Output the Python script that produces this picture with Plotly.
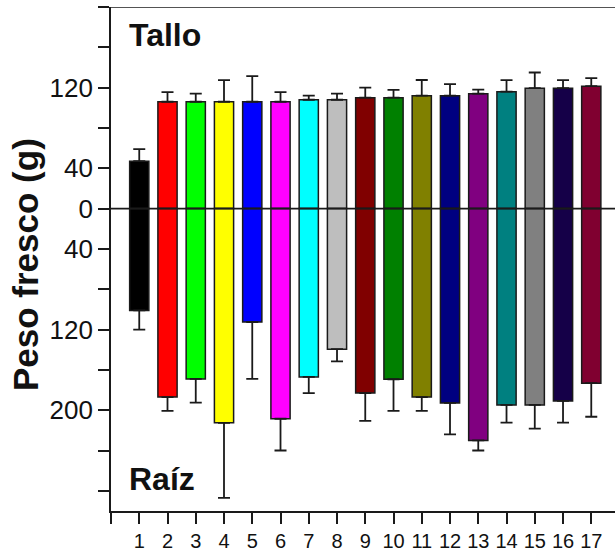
import plotly.graph_objects as go

groups = list(range(1, 18))
tallo = [47, 106, 106, 106, 106, 106, 108, 108, 110, 110, 112, 112, 114, 116, 119.5, 119.5, 121.5]
tallo_err = [12, 9.5, 8, 21.5, 25.5, 9.5, 4, 6, 10, 7.8, 15.6, 11.5, 4, 11.4, 15.5, 7.9, 7.9]
raiz = [101, 187, 169, 212.5, 112.5, 208.5, 167, 139.5, 183, 169.3, 187, 192.8, 230, 194.8, 194.8, 190.8, 173.2]
raiz_err = [19, 13.7, 23.5, 74.5, 56.5, 31.5, 16, 12, 27.5, 31.4, 13.7, 31.2, 10, 17.6, 23.5, 21.6, 33.3]
colors = ["#000000", "#FF0000", "#00FF00", "#FFFF00", "#0000FF", "#FF00FF", "#00FFFF",
          "#BEBEBE", "#800000", "#008000", "#808000", "#000080", "#800080", "#008080",
          "#808080", "#150048", "#800030"]

ytick_vals = [200, 160, 120, 80, 40, 0, -40, -80, -120, -160, -200, -240, -280]
ytick_text = ["", "", "120", "", "40", "0", "40", "", "120", "", "200", "", ""]
xtick_vals = [0] + groups
xtick_text = [""] + [str(g) for g in groups]

FONT = "Liberation Sans, Arial, Helvetica, sans-serif"
LINE = "#1a1a1a"

fig = go.Figure()
fig.add_trace(go.Bar(
    x=groups, y=tallo, width=0.68,
    marker=dict(color=colors, line=dict(color=LINE, width=1.5)),
    error_y=dict(type="data", symmetric=False, array=tallo_err,
                 arrayminus=[0] * len(groups), color=LINE, thickness=1.8, width=6),
    showlegend=False,
))
fig.add_trace(go.Bar(
    x=groups, y=[-v for v in raiz], width=0.68,
    marker=dict(color=colors, line=dict(color=LINE, width=1.5)),
    error_y=dict(type="data", symmetric=False, array=[0] * len(groups),
                 arrayminus=raiz_err, color=LINE, thickness=1.8, width=6),
    showlegend=False,
))

fig.update_layout(
    width=615, height=552,
    margin=dict(l=111, r=0, t=7, b=36),
    paper_bgcolor="white", plot_bgcolor="white",
    barmode="overlay",
    font=dict(family=FONT, color="#111111"),
    xaxis=dict(range=[0, 17.84], tickmode="array", tickvals=xtick_vals, ticktext=xtick_text,
               showgrid=False, zeroline=False, showline=True, linecolor=LINE, linewidth=1.6,
               ticks="outside", ticklen=11, tickwidth=1.6, tickcolor=LINE,
               tickfont=dict(size=20, family=FONT)),
    yaxis=dict(range=[-300, 200], tickmode="array", tickvals=ytick_vals, ticktext=ytick_text,
               showgrid=False, zeroline=False, showline=True, linecolor=LINE, linewidth=1.6,
               ticks="outside", ticklen=11, tickwidth=1.6, tickcolor=LINE,
               tickfont=dict(size=26, family=FONT)),
    shapes=[
        dict(type="line", xref="paper", yref="y", x0=0, x1=1, y0=0, y1=0,
             line=dict(color=LINE, width=1.6), layer="above"),
        dict(type="line", xref="paper", yref="y", x0=0, x1=1, y0=200, y1=200,
             line=dict(color=LINE, width=1.6), layer="above"),
    ],
    annotations=[
        dict(text="<b>Tallo</b>", x=0.57, y=172, xref="x", yref="y", xanchor="left",
             yanchor="middle", showarrow=False, font=dict(size=32, family=FONT, color="#111111")),
        dict(text="<b>Raíz</b>", x=0.57, y=-268, xref="x", yref="y", xanchor="left",
             yanchor="middle", showarrow=False, font=dict(size=32, family=FONT, color="#111111")),
        dict(text="<b>Peso fresco (g)</b>", x=0, y=0.488, xref="paper", yref="paper",
             xanchor="center", yanchor="middle", xshift=-86, textangle=-90, showarrow=False,
             font=dict(size=35, family=FONT, color="#111111")),
    ],
)

fig.write_html("out.html")
